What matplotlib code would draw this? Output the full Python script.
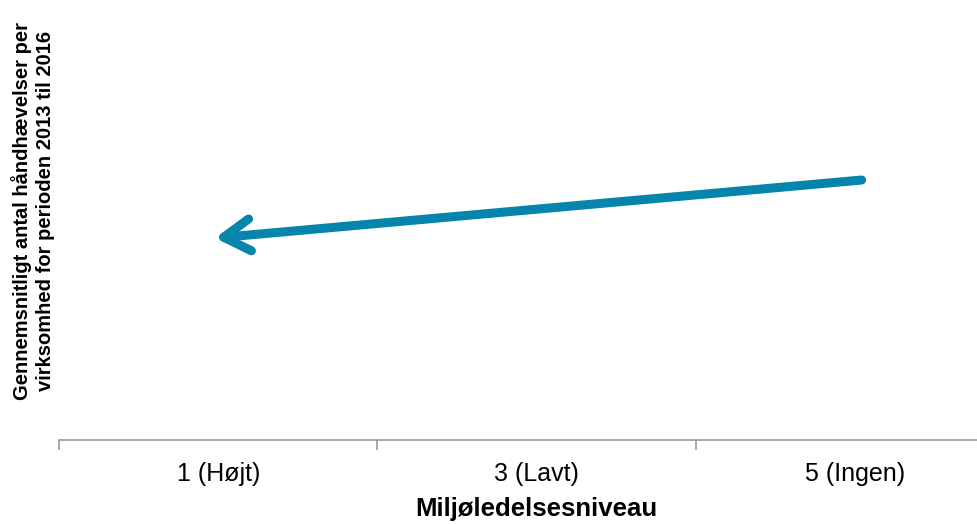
import numpy as np
import matplotlib.pyplot as plt

# categories on the x axis
levels = ['1 (Højt)', '3 (Lavt)', '5 (Ingen)']

# trend arrow (drawn as a shape in the original), in data units
arrow_x = [2.02, -0.01]   # start, end (tip)
arrow_y = [0.619, 0.481]

teal = '#0585AB'
plt.rcParams['font.family'] = ['Liberation Sans', 'DejaVu Sans']

fig = plt.figure(figsize=(9.78, 5.24), dpi=100)
# axis runs past the right edge of the picture, as in the original
ax = fig.add_axes([0.0603, 0.160, 0.977, 0.802])

ax.set_xlim(-0.5, 2.5)
ax.set_ylim(0, 1)

ax.annotate('', xy=(arrow_x[1], arrow_y[1]), xytext=(arrow_x[0], arrow_y[0]),
            arrowprops=dict(arrowstyle='->,head_length=1.9,head_width=1.15',
                            color=teal, lw=6.5, capstyle='round',
                            joinstyle='round', shrinkA=0, shrinkB=0))

for s in ['top', 'right', 'left']:
    ax.spines[s].set_visible(False)
ax.spines['bottom'].set_color('#999999')
ax.spines['bottom'].set_linewidth(1.2)

ax.set_yticks([])
ax.set_xticks(range(len(levels)))
ax.set_xticklabels(levels, fontsize=18)
ax.tick_params(axis='x', which='major', length=0, pad=16)
ax.set_xticks(np.arange(-0.5, len(levels), 1.0), minor=True)
ax.tick_params(axis='x', which='minor', length=7, color='#999999', width=1.2)

ax.set_xlabel('Miljøledelsesniveau', fontsize=18.5, fontweight='bold', labelpad=8)
ax.set_ylabel('Gennemsnitligt antal håndhævelser per\nvirksomhed for perioden 2013 til 2016',
              fontsize=14.5, fontweight='bold', linespacing=1.25)
ax.yaxis.set_label_coords(-0.004, 0.545)

fig.savefig('out.png', dpi=100)
